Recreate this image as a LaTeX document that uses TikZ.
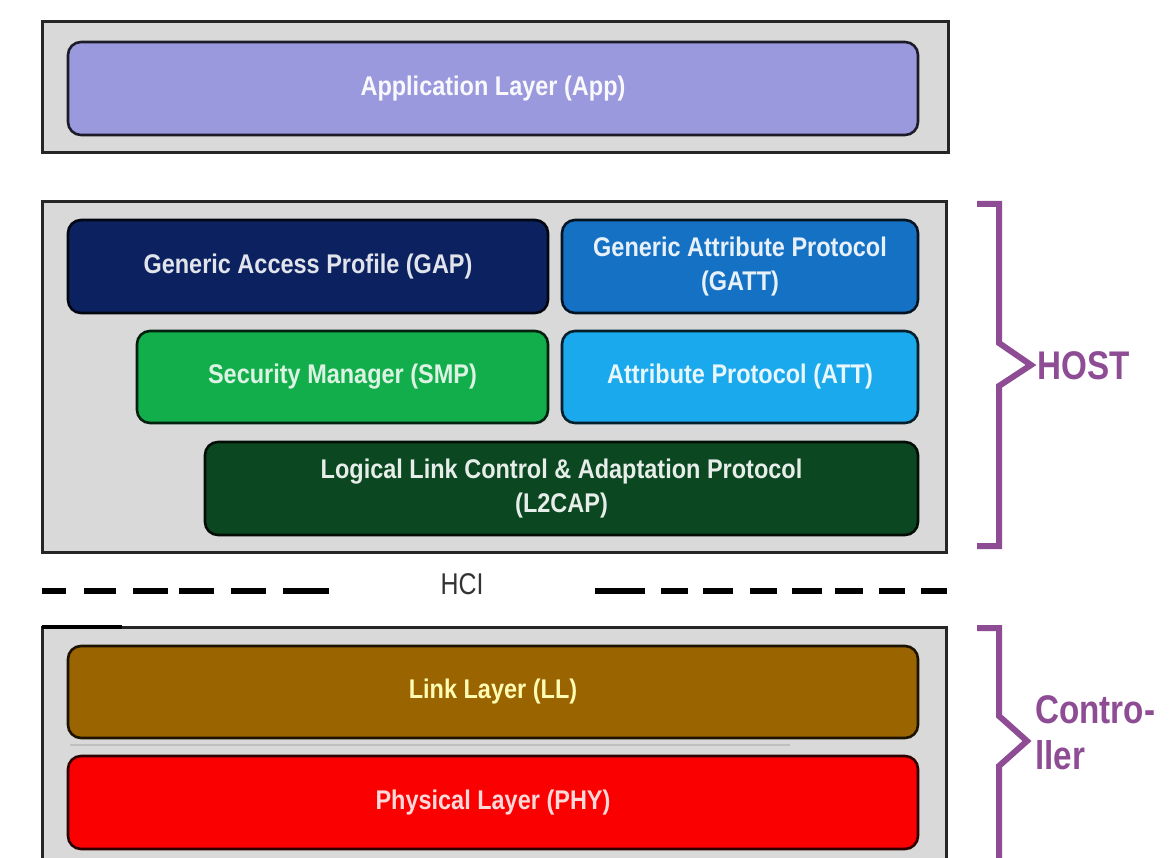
\documentclass[tikz,border=0pt]{standalone}
\usepackage{fontspec}
\newfontfamily\blockfont[FakeStretch=0.87]{Liberation Sans}
\newfontfamily\sidefont[FakeStretch=0.83]{Liberation Sans}
\definecolor{framegray}{HTML}{D9D9D9}
\definecolor{appc}{HTML}{9B99DD}
\definecolor{gapc}{HTML}{0C2260}
\definecolor{gattc}{HTML}{1571C4}
\definecolor{smpc}{HTML}{12AE4B}
\definecolor{attc}{HTML}{19A9EC}
\definecolor{ltcapc}{HTML}{0B4822}
\definecolor{llc}{HTML}{9A6400}
\definecolor{phyc}{HTML}{FB0000}
\definecolor{brk}{HTML}{8E4C95}
\begin{document}
\begin{tikzpicture}[x=1pt,y=-1pt,
  frame/.style={draw=black!85,line width=3pt,fill=framegray,inner sep=0pt,outer sep=0pt},
  blk/.style={rounded corners=13pt,line width=2.6pt,inner sep=0pt,outer sep=0pt,
    align=center,font=\blockfont\bfseries\fontsize{27}{34}\selectfont},
  layer/.style 2 args={blk,fill=#1,draw=#1!18!black,text=#2},
  bracket/.style={draw=brk,line width=6pt,miter limit=4},
  sidelabel/.style={text=brk,anchor=west,inner sep=0pt,align=left,
    font=\sidefont\bfseries\fontsize{40}{46}\selectfont},
  hcidash/.style={line width=6pt,black}]
\useasboundingbox (0,0) rectangle (1170,858);
\clip (0,0) rectangle (1170,858);
\fill[white] (0,0) rectangle (1170,858);

% application frame
\node[frame,minimum width=906pt,minimum height=131pt] (appframe) at (495,87.5) {};
\node[layer={appc}{white!94!appc},minimum width=850pt,minimum height=93pt] (app) at (493,88.5) {Application Layer (App)};

% host frame and its layers
\node[frame,minimum width=904pt,minimum height=350pt] (hostframe) at (494,377) {};
\node[layer={gapc}{white!88!gapc},minimum width=480pt,minimum height=93pt] (gap) at (308,266.5) {Generic Access Profile (GAP)};
\node[layer={gattc}{white!90!gattc},minimum width=356pt,minimum height=93pt] (gatt) at (740,266.5) {Generic Attribute Protocol\\(GATT)};
\node[layer={smpc}{white!85!smpc},minimum width=411pt,minimum height=92pt] (smp) at (342.5,377) {Security Manager (SMP)};
\node[layer={attc}{white!90!attc},minimum width=356pt,minimum height=92pt] (att) at (740,377) {Attribute Protocol (ATT)};
\node[layer={ltcapc}{white!90!ltcapc},minimum width=713pt,minimum height=93pt] (l2cap) at (561.5,488.5) {Logical Link Control \& Adaptation Protocol\\(L2CAP)};

% host controller interface
\node[font=\sidefont\fontsize{30}{34}\selectfont,text=black!80,inner sep=0pt] (hci) at (462,584) {HCI};
\foreach \a/\b in {42/66,84/116,133/168,179/214,231/266,283/329,
                   595/645,661/688,703/733,750/777,792/822,835/863,879/905,921/947}
  \draw[hcidash] (\a,591) -- (\b,591);

% controller frame and its layers
\node[frame,minimum width=904pt,minimum height=253pt] (ctrlframe) at (494,753.5) {};
\draw[line width=4pt,black] (42,627) -- (122,627);
\draw[line width=1.5pt,black!25] (70,745) -- (790,745);
\node[layer={llc}{yellow!30!white},minimum width=850pt,minimum height=92pt] (ll) at (493,692) {Link Layer (LL)};
\node[layer={phyc}{red!15!white},minimum width=850pt,minimum height=93pt] (phy) at (493,802.5) {Physical Layer (PHY)};

% side brackets
\draw[bracket] (977,204) -- (999,204) -- (999,343) -- (1031,365) -- (999,386) -- (999,546) -- (977,546);
\node[sidelabel] (host) at (1037,366) {HOST};
\draw[bracket] (977,628) -- (999,628) -- (999,716) -- (1027,741) -- (999,766) -- (999,880);
\node[sidelabel] (ctrl) at (1035,733) {Contro-\\ller};
\end{tikzpicture}
\end{document}
